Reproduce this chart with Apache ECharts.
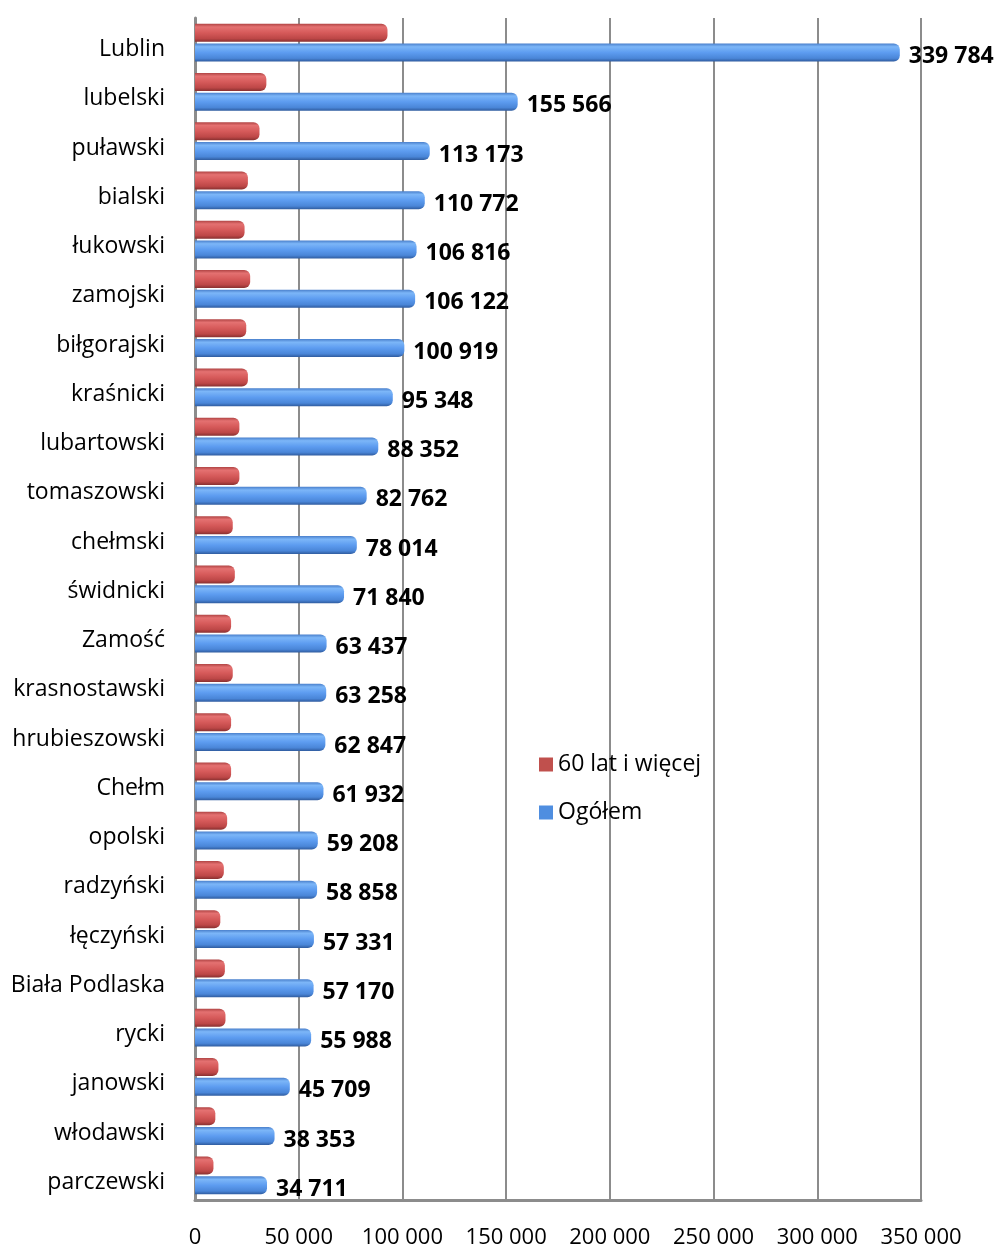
<!DOCTYPE html>
<html>
<head>
<meta charset="utf-8">
<script src="https://cdn.jsdelivr.net/npm/echarts@6/dist/echarts.min.js"></script>
<style>
html,body{margin:0;padding:0;background:#fff;}
#chart{width:999px;height:1250px;}
</style>
</head>
<body>
<div id="chart"></div>
<script>
var categories = ["Lublin","lubelski","puławski","bialski","łukowski","zamojski","biłgorajski","kraśnicki","lubartowski","tomaszowski","chełmski","świdnicki","Zamość","krasnostawski","hrubieszowski","Chełm","opolski","radzyński","łęczyński","Biała Podlaska","rycki","janowski","włodawski","parczewski"];
var seniors = [92800,34400,31100,25500,23900,26600,24700,25500,21400,21400,18200,19200,17400,18200,17400,17400,15500,13900,12200,14400,14700,11300,9800,8900];
var total = [339784,155566,113173,110772,106816,106122,100919,95348,88352,82762,78014,71840,63437,63258,62847,61932,59208,58858,57331,57170,55988,45709,38353,34711];
var seriesNames = ["60 lat i więcej","Ogółem"];
var xTicks = {min:0, max:350000, interval:50000};

function fmt(v){
  return String(Math.round(v)).replace(/\B(?=(\d{3})+(?!\d))/g, ' ');
}
var FONT = '"Open Sans", "Liberation Sans", sans-serif';

var chart = echarts.init(document.getElementById('chart'));
chart.setOption({
  animation:false,
  backgroundColor:'#fff',
  grid:{left:195, width:726, top:18, height:1182},
  legend:{
    orient:'vertical', left:534, top:748,
    itemWidth:14, itemHeight:14, itemGap:25,
    icon:'rect',
    textStyle:{fontFamily:FONT, fontSize:23, color:'#000'},
    data:[
      {name:seriesNames[0], itemStyle:{color:'#c0504d'}},
      {name:seriesNames[1], itemStyle:{color:'#4f8ee0'}}
    ]
  },
  xAxis:{
    type:'value', min:xTicks.min, max:xTicks.max, interval:xTicks.interval,
    axisLine:{show:true, lineStyle:{color:'#8c8c8c', width:3}},
    axisTick:{show:false},
    splitLine:{show:true, lineStyle:{color:'#8c8c8c', width:2}},
    axisLabel:{fontFamily:FONT, fontSize:22, color:'#000', margin:27, formatter:function(v){return fmt(v);}}
  },
  yAxis:{
    type:'category', data:categories, inverse:true,
    axisLine:{show:true, lineStyle:{color:'#8c8c8c', width:3}},
    axisTick:{show:false},
    axisLabel:{fontFamily:FONT, fontSize:23, color:'#000', margin:30, verticalAlign:'top', lineHeight:14}
  },
  series:[
    {
      name:seriesNames[0], type:'bar', data:seniors, barWidth:18, barGap:'10%',
      itemStyle:{
        borderRadius:[0,6,6,0],
        color:new echarts.graphic.LinearGradient(0,0,0,1,[
          {offset:0,color:'#b04444'},{offset:0.18,color:'#e47171'},
          {offset:0.5,color:'#d65a5a'},{offset:0.82,color:'#bd4747'},{offset:1,color:'#883030'}
        ])
      }
    },
    {
      name:seriesNames[1], type:'bar', data:total, barWidth:18, barGap:'10%',
      itemStyle:{
        borderRadius:[0,6,6,0],
        color:new echarts.graphic.LinearGradient(0,0,0,1,[
          {offset:0,color:'#4a80cc'},{offset:0.18,color:'#7cb6f8'},
          {offset:0.5,color:'#5d9cf0'},{offset:0.82,color:'#4a86d8'},{offset:1,color:'#2f5b9e'}
        ])
      },
      label:{
        show:true, position:'right', distance:9, offset:[0,4],
        fontFamily:FONT, fontSize:23, fontWeight:'bold', color:'#000',
        formatter:function(p){return fmt(p.value);}
      }
    }
  ]
});
</script>
</body>
</html>
